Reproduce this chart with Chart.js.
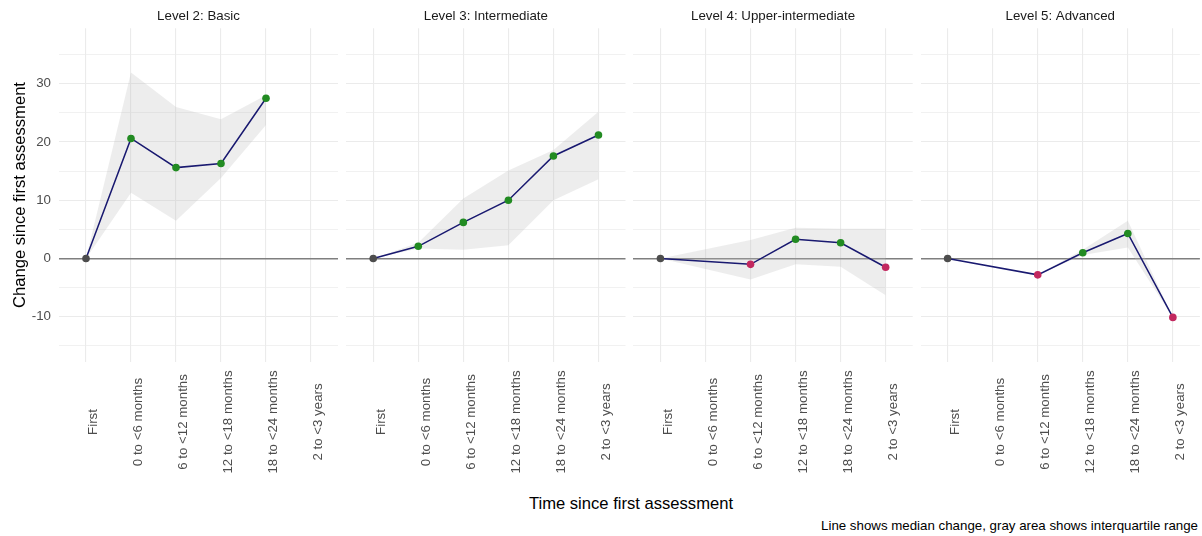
<!DOCTYPE html>
<html>
<head>
<meta charset="utf-8">
<script src="https://cdn.jsdelivr.net/npm/chart.js@4/dist/chart.umd.min.js"></script>
<style>
  html, body { margin: 0; padding: 0; background: #ffffff; }
  #wrap { position: relative; width: 1202px; height: 536px; overflow: hidden; font-family: "Liberation Sans", Arial, sans-serif; }
  canvas { position: absolute; top: 0; }
  .txt { position: absolute; white-space: nowrap; }
</style>
</head>
<body>
<div id="wrap">
  <canvas id="c0" width="342" height="480" style="left:0px"></canvas>
  <canvas id="c1" width="288" height="480"></canvas>
  <canvas id="c2" width="288" height="480"></canvas>
  <canvas id="c3" width="288" height="480"></canvas>
  <div class="txt" id="xTitle" style="left:0;width:1262px;text-align:center;top:494px;font-size:16.6px;line-height:20px;color:#000;">Time since first assessment</div>
  <div class="txt" id="caption" style="right:4px;top:517px;font-size:13.3px;line-height:18px;color:#000;">Line shows median change, gray area shows interquartile range</div>
</div>
<script>
// Time bins on the x axis
const categories = ['First', '0 to <6 months', '6 to <12 months', '12 to <18 months', '18 to <24 months', '2 to <3 years'];

// Panel titles
const levels = ['Level 2: Basic', 'Level 3: Intermediate', 'Level 4: Upper-intermediate', 'Level 5: Advanced'];

// Median change since first assessment, per level
const medianL2 = [0, 20.6, 15.6, 16.3, 27.5, null];
const medianL3 = [0, 2.1, 6.2, 10.0, 17.6, 21.2];
const medianL4 = [0, null, -1.0, 3.3, 2.7, -1.5];
const medianL5 = [0, null, -2.8, 1.0, 4.3, -10.1];

// Lower quartile of change
const q1L2 = [0, 11.3, 6.5, 13.8, 22.9, null];
const q1L3 = [0, 1.7, 1.5, 2.3, 10.0, 13.6];
const q1L4 = [0, null, -3.6, -1.0, -1.4, -6.3];
const q1L5 = [0, null, -2.8, 0.6, 1.9, -10.1];

// Upper quartile of change
const q3L2 = [0, 31.9, 26.0, 23.9, 28.0, null];
const q3L3 = [0, 2.7, 10.3, 15.1, 18.6, 25.2];
const q3L4 = [0, null, 3.2, 5.3, 5.1, 5.1];
const q3L5 = [0, null, -2.8, 1.5, 6.5, -10.1];

// Y axis gridline values (labels shown on every 10)
const yTicks = [-15, -10, -5, 0, 5, 10, 15, 20, 25, 30, 35];

const medians = [medianL2, medianL3, medianL4, medianL5];
const lowers = [q1L2, q1L3, q1L4, q1L5];
const uppers = [q3L2, q3L3, q3L4, q3L5];

const FONT = '"Liberation Sans", Arial, sans-serif';
const GRID = '#ebebeb';
const ZERO = '#7f7f7f';
const LINE = '#191970';
const POS = '#228b22';
const NEG = '#c2285f';
const BASE = '#4d4d4d';
const BAND = 'rgba(190,190,190,0.27)';

// Panel geometry
const panelLeft0 = 59, panelWidth = 279.3, panelStep = 287.2;
const plotTop = 28.3, plotBottom = 361.7, canvasH = 480;

// Strip label drawn above each panel
const stripPlugin = {
  id: 'strip',
  afterDraw(chart, args, opts) {
    const { ctx, chartArea } = chart;
    ctx.save();
    ctx.font = '13.3px ' + FONT;
    ctx.fillStyle = '#1a1a1a';
    ctx.textAlign = 'center';
    ctx.textBaseline = 'middle';
    ctx.fillText(opts.text, (chartArea.left + chartArea.right) / 2, 16);
    ctx.restore();
  }
};

// Vertical category labels centred on a common line below the panel
const xLabelPlugin = {
  id: 'xlabels',
  afterDraw(chart) {
    const { ctx } = chart;
    const xs = chart.scales.x;
    ctx.save();
    ctx.font = '13.3px ' + FONT;
    ctx.fillStyle = BASE;
    ctx.textAlign = 'center';
    ctx.textBaseline = 'alphabetic';
    categories.forEach((label, i) => {
      const px = xs.getPixelForValue(i);
      ctx.save();
      ctx.translate(px + 11.3, 422);
      ctx.rotate(-Math.PI / 2);
      ctx.fillText(label, 0, 0);
      ctx.restore();
    });
    ctx.restore();
  }
};

function toPoints(arr) {
  return arr.map((v, i) => ({ x: i, y: v }));
}

function pointColour(ctx) {
  const v = ctx.raw && ctx.raw.y;
  if (v === 0) return BASE;
  return v > 0 ? POS : NEG;
}

for (let p = 0; p < 4; p++) {
  const canvas = document.getElementById('c' + p);
  const pl = panelLeft0 + p * panelStep;
  const pr = pl + panelWidth;
  let canvasLeft, padLeft, yWidth;
  if (p === 0) {
    canvasLeft = 0; padLeft = 0; yWidth = pl;
  } else {
    canvasLeft = Math.floor(pl) - 4; padLeft = pl - canvasLeft; yWidth = 0;
    canvas.style.left = canvasLeft + 'px';
  }
  const padRight = canvasLeft + canvas.width - pr;

  new Chart(canvas, {
    type: 'line',
    data: {
      datasets: [
        {
          label: 'Median',
          data: toPoints(medians[p]),
          borderColor: LINE,
          borderWidth: 1.5,
          pointRadius: 3.8,
          pointBorderWidth: 0,
          pointBackgroundColor: pointColour,
          pointBorderColor: pointColour,
          spanGaps: true,
          fill: false,
          order: 0
        },
        {
          label: 'Upper quartile',
          data: toPoints(uppers[p]),
          borderWidth: 0,
          borderColor: 'rgba(0,0,0,0)',
          pointRadius: 0,
          backgroundColor: BAND,
          spanGaps: true,
          fill: '+1',
          order: 1
        },
        {
          label: 'Lower quartile',
          data: toPoints(lowers[p]),
          borderWidth: 0,
          borderColor: 'rgba(0,0,0,0)',
          pointRadius: 0,
          spanGaps: true,
          fill: false,
          order: 2
        }
      ]
    },
    options: {
      responsive: false,
      animation: false,
      events: [],
      layout: { padding: { top: plotTop, bottom: 0, left: padLeft, right: padRight } },
      plugins: {
        legend: { display: false },
        tooltip: { enabled: false },
        title: { display: false },
        strip: { text: levels[p] }
      },
      scales: {
        x: {
          type: 'linear',
          min: -0.6,
          max: 5.6,
          afterBuildTicks: (scale) => { scale.ticks = categories.map((c, i) => ({ value: i })); },
          afterFit: (scale) => { scale.height = canvasH - plotBottom - plotTop * 0; },
          ticks: { display: false },
          border: { display: false },
          grid: { color: GRID, lineWidth: 1.1, drawTicks: false }
        },
        y: {
          type: 'linear',
          min: -17.7,
          max: 39.5,
          afterBuildTicks: (scale) => { scale.ticks = yTicks.map(v => ({ value: v })); },
          afterFit: (scale) => { scale.width = yWidth; },
          border: { display: false },
          grid: {
            drawTicks: false,
            color: (ctx) => (ctx.tick && ctx.tick.value === 0) ? ZERO : GRID,
            lineWidth: (ctx) => {
              if (!ctx.tick) return 1;
              if (ctx.tick.value === 0) return 1.4;
              return ctx.tick.value % 10 === 0 ? 1.1 : 0.7;
            }
          },
          ticks: {
            display: p === 0,
            padding: 8,
            color: BASE,
            font: { family: FONT, size: 13.3 },
            callback: (v) => (v % 10 === 0 ? String(v) : '')
          },
          title: {
            display: p === 0,
            text: 'Change since first assessment',
            color: '#000',
            font: { family: FONT, size: 16.6 },
            padding: { top: 10, bottom: 0 }
          }
        }
      }
    },
    plugins: [stripPlugin, xLabelPlugin]
  });
}
</script>
</body>
</html>
